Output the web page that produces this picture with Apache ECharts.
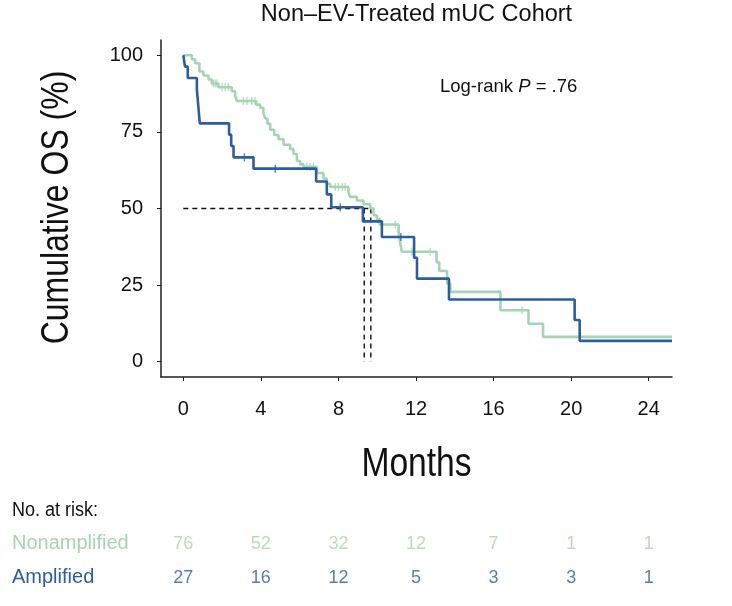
<!DOCTYPE html>
<html><head><meta charset="utf-8">
<script src="https://cdn.jsdelivr.net/npm/echarts@6/dist/echarts.min.js"></script>
<style>html,body{margin:0;padding:0;background:#fff;}#c{width:732px;height:606px;}</style>
</head><body><div id="c"></div>
<script>
// ---- data ----
const titleText = 'Non\u2013EV-Treated mUC Cohort';
const xAxisTitle = 'Months';
const yAxisTitle = 'Cumulative OS (%)';
const xTicks = [0, 4, 8, 12, 16, 20, 24];
const yTicks = [0, 25, 50, 75, 100];
const lastFollowUp = 25.2;
// Nonamplified (green) KM drops: time, survival after drop
const nonampTimes = [0.44, 0.61, 0.83, 1.04, 1.30, 1.47, 1.81, 2.50, 2.67, 2.76, 3.76, 3.96, 4.13, 4.22, 4.34, 4.48, 4.69, 4.91, 5.17, 5.51, 5.68, 5.86, 6.03, 6.20, 6.89, 7.23, 7.40, 7.57, 8.52, 8.60, 8.95, 9.29, 9.64, 9.81, 9.98, 10.12, 11.10, 11.18, 11.27, 13.06, 13.20, 13.60, 13.77, 16.35, 17.80, 18.55];
const nonampSurv  = [98.7, 97.4, 94.7, 93.4, 92.1, 90.8, 89.6, 88.3, 86.9, 85.1, 83.9, 82.9, 81.2, 79.4, 77.7, 75.7, 74.0, 72.6, 70.8, 69.4, 67.8, 65.5, 64.4, 63.6, 61.6, 59.8, 58.1, 57.0, 55.2, 53.8, 52.6, 51.4, 50.0, 47.8, 46.6, 44.8, 42.5, 39.0, 35.9, 32.4, 29.6, 25.5, 22.8, 16.8, 12.4, 8.1];
const nonampCensor = [1.55, 1.64, 1.73, 1.99, 2.16, 2.33, 3.10, 3.28, 3.53, 3.70, 6.37, 6.54, 6.71, 7.83, 8.00, 8.20, 8.35, 10.93, 11.79, 12.73, 17.47];
// Amplified (blue)
const ampTimes = [0.09, 0.23, 0.70, 0.75, 0.80, 0.85, 2.36, 2.47, 2.59, 3.62, 6.85, 7.40, 7.63, 9.26, 10.24, 11.90, 12.05, 13.70, 20.18, 20.44];
const ampSurv  = [96.3, 92.6, 88.9, 85.2, 81.5, 77.8, 74.1, 70.4, 66.7, 63.0, 58.8, 54.6, 50.4, 45.8, 40.7, 33.9, 27.1, 20.3, 13.6, 6.8];
const ampCensor = [3.15, 4.74, 8.09, 11.22];
// medians
const medianTimes = [9.33, 9.67];
// risk table
const riskTimes = [0, 4, 8, 12, 16, 20, 24];
const riskNonamp = [76, 52, 32, 12, 7, 1, 1];
const riskAmp = [27, 16, 12, 5, 3, 3, 1];
const riskTitle = 'No. at risk:';
const groupNames = ['Nonamplified', 'Amplified'];
const pText = '.76';

// ---- helpers ----
function stepData(times, surv) {
  const d = [[0, 100]];
  times.forEach((t, i) => d.push([t, surv[i]]));
  d.push([lastFollowUp, surv[surv.length - 1]]);
  return d;
}
function survAt(times, surv, t) {
  let s = 100;
  for (let i = 0; i < times.length; i++) { if (times[i] <= t) s = surv[i]; }
  return s;
}
const GREEN = '#a6d3b3', BLUE = '#2d5d9c';
const SANS = '"Liberation Sans",Arial,sans-serif';
const xMin = -1.15, xMax = lastFollowUp, yMin = -5, yMax = 105;
const gLeft = 161, gTop = 40, gW = 511, gH = 337;

const medMax = Math.max.apply(null, medianTimes);
const dashStyle = { color: '#111', width: 1.4, type: [5, 4] };
const series = [];
series.push({ type: 'line', xAxisIndex: 0, yAxisIndex: 0, data: [[0, 50], [medMax, 50]], symbol: 'none', lineStyle: dashStyle, silent: true, z: 1 });
medianTimes.forEach(m => series.push({ type: 'line', xAxisIndex: 0, yAxisIndex: 0, data: [[m, 50], [m, 0]], symbol: 'none', lineStyle: dashStyle, silent: true, z: 1 }));
series.push({ type: 'line', step: 'end', data: stepData(nonampTimes, nonampSurv), symbol: 'none', lineStyle: { color: GREEN, width: 2.6 }, z: 2 });
series.push({ type: 'scatter', data: nonampCensor.map(t => [t, survAt(nonampTimes, nonampSurv, t)]), symbol: 'rect', symbolSize: [1.4, 8], itemStyle: { color: GREEN }, z: 3 });
series.push({ type: 'line', step: 'end', data: stepData(ampTimes, ampSurv), symbol: 'none', lineStyle: { color: BLUE, width: 2.6 }, z: 4 });
series.push({ type: 'scatter', data: ampCensor.map(t => [t, survAt(ampTimes, ampSurv, t)]), symbol: 'rect', symbolSize: [1.4, 8], itemStyle: { color: BLUE }, z: 5 });
// risk table rows on grid 1
function riskSeries(vals, row, color) {
  return { type: 'scatter', xAxisIndex: 1, yAxisIndex: 1, symbolSize: 0,
    data: riskTimes.map((t, i) => [t, row, vals[i]]),
    label: { show: true, position: 'inside', formatter: p => String(p.value[2]), color: color, fontSize: 18, fontFamily: SANS } };
}
series.push(riskSeries(riskNonamp, 1, GREEN));
series.push(riskSeries(riskAmp, 0, BLUE));

const option = {
  animation: false,
  backgroundColor: '#fff',
  grid: [
    { left: gLeft, top: gTop, width: gW, height: gH },
    { left: gLeft, top: 527, width: gW, height: 68 }
  ],
  xAxis: [
    { type: 'value', gridIndex: 0, min: xMin, max: xMax,
      axisLine: { show: true, onZero: false, lineStyle: { color: '#222', width: 1.5 } },
      axisTick: { show: true, length: 4, customValues: xTicks, lineStyle: { color: '#222' } },
      axisLabel: { customValues: xTicks, fontSize: 20, color: '#111', fontFamily: SANS, margin: 22 },
      splitLine: { show: false } },
    { type: 'value', gridIndex: 1, min: xMin, max: xMax, show: false }
  ],
  yAxis: [
    { type: 'value', gridIndex: 0, min: yMin, max: yMax,
      axisLine: { show: true, onZero: false, lineStyle: { color: '#222', width: 1.5 } },
      axisTick: { show: true, length: 4, customValues: yTicks, lineStyle: { color: '#222' } },
      axisLabel: { customValues: yTicks, fontSize: 20, color: '#111', fontFamily: SANS, margin: 18 },
      splitLine: { show: false } },
    { type: 'value', gridIndex: 1, min: -0.5, max: 1.5, show: false }
  ],
  graphic: [
    { type: 'text', x: gLeft + gW / 2, y: 15, style: { text: titleText, fontSize: 23.5, fill: '#111', fontFamily: SANS, textAlign: 'center', verticalAlign: 'middle' } },
    { type: 'text', x: 440, y: 87, style: { rich: { a: { fontSize: 18.5, fontFamily: SANS, fill: '#111' }, i: { fontSize: 18.5, fontFamily: SANS, fontStyle: 'italic', fill: '#111' } }, text: '{a|Log-rank }{i|P}{a| = ' + pText + '}', verticalAlign: 'middle' } },
    { type: 'text', x: gLeft + gW / 2, y: 465, scaleX: 0.82, style: { text: xAxisTitle, fontSize: 41, fill: '#111', fontFamily: SANS, textAlign: 'center', verticalAlign: 'middle' } },
    { type: 'text', x: 57.5, y: gTop + gH / 2 - 1, rotation: Math.PI / 2, scaleX: 0.82, style: { text: yAxisTitle, fontSize: 39, fill: '#111', fontFamily: SANS, textAlign: 'center', verticalAlign: 'middle' } },
    { type: 'text', x: 12, y: 510, scaleX: 0.9, style: { text: riskTitle, fontSize: 20, fill: '#111', fontFamily: SANS, verticalAlign: 'middle' } },
    { type: 'text', x: 12, y: 543, style: { text: groupNames[0], fontSize: 20, fill: GREEN, fontFamily: SANS, verticalAlign: 'middle' } },
    { type: 'text', x: 12, y: 577, style: { text: groupNames[1], fontSize: 20, fill: BLUE, fontFamily: SANS, verticalAlign: 'middle' } }
  ],
  series: series
};
const chart = echarts.init(document.getElementById('c'), null, { renderer: 'canvas' });
chart.setOption(option);
</script>
</body></html>
